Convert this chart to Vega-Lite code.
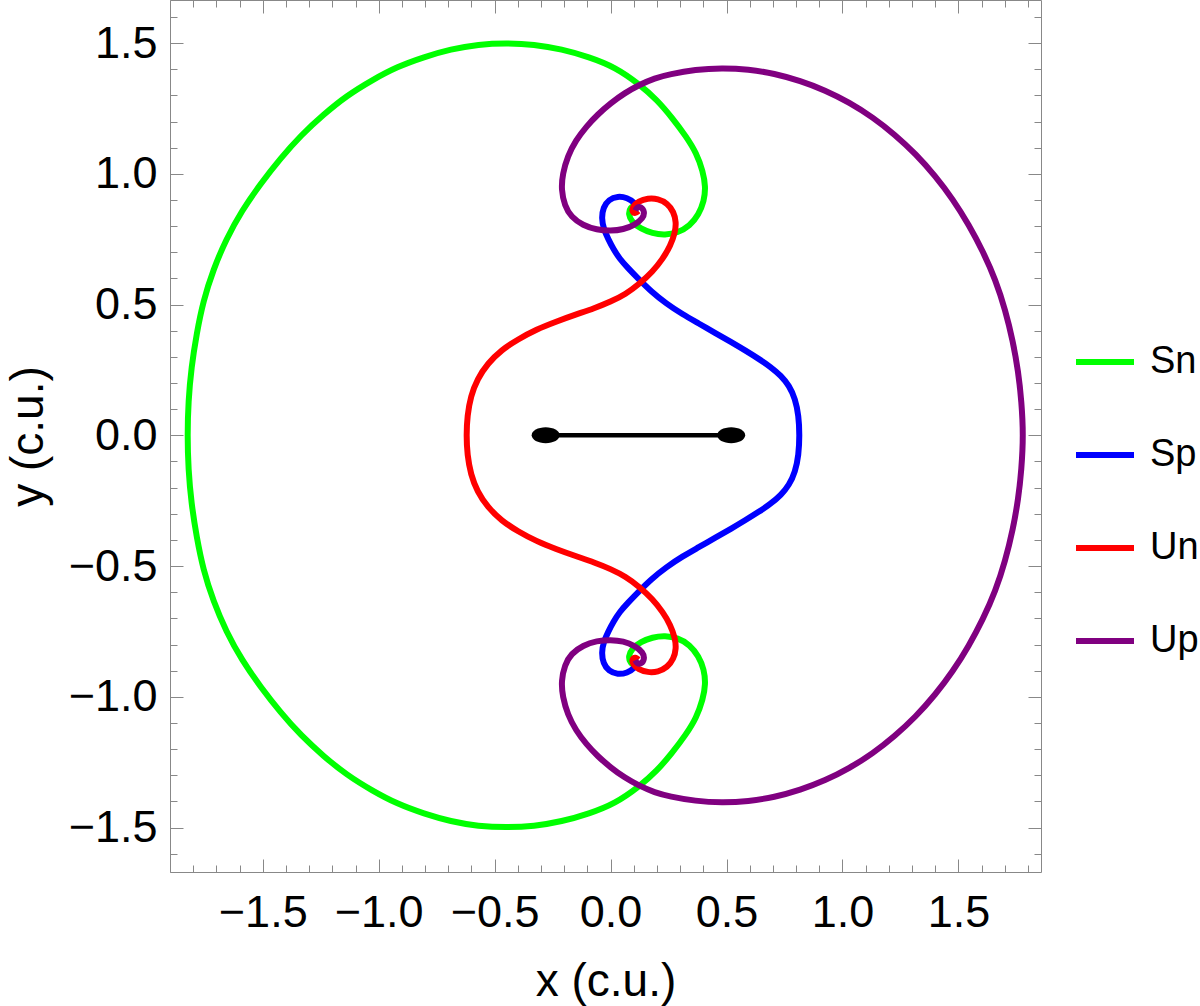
{
  "$schema": "https://vega.github.io/schema/vega-lite/v6.json",
  "width": 871,
  "height": 872,
  "autosize": "none",
  "padding": {"left": 170, "top": 0, "right": 159, "bottom": 134},
  "background": "white",
  "config": {
    "view": {"stroke": "#888888", "strokeWidth": 1},
    "font": "Liberation Sans"
  },
  "datasets": {
    "curves": [
      {"s":"Sn","x":0.120,"y":-0.868},{"s":"Sn","x":0.106,"y":-0.881},{"s":"Sn","x":0.085,"y":-0.872},{"s":"Sn","x":0.076,"y":-0.845},{"s":"Sn","x":0.092,"y":-0.815},{"s":"Sn","x":0.130,"y":-0.790},{"s":"Sn","x":0.180,"y":-0.772},{"s":"Sn","x":0.235,"y":-0.766},{"s":"Sn","x":0.290,"y":-0.775},{"s":"Sn","x":0.341,"y":-0.800},{"s":"Sn","x":0.380,"y":-0.845},{"s":"Sn","x":0.403,"y":-0.895},{"s":"Sn","x":0.410,"y":-0.951},{"s":"Sn","x":0.398,"y":-1.010},{"s":"Sn","x":0.370,"y":-1.080},{"s":"Sn","x":0.326,"y":-1.143},{"s":"Sn","x":0.265,"y":-1.215},{"s":"Sn","x":0.200,"y":-1.283},{"s":"Sn","x":0.125,"y":-1.342},{"s":"Sn","x":0.020,"y":-1.408},{"s":"Sn","x":-0.093,"y":-1.447},{"s":"Sn","x":-0.211,"y":-1.477},{"s":"Sn","x":-0.330,"y":-1.495},{"s":"Sn","x":-0.450,"y":-1.500},{"s":"Sn","x":-0.570,"y":-1.495},{"s":"Sn","x":-0.689,"y":-1.477},{"s":"Sn","x":-0.805,"y":-1.447},{"s":"Sn","x":-0.920,"y":-1.410},{"s":"Sn","x":-1.030,"y":-1.358},{"s":"Sn","x":-1.138,"y":-1.299},{"s":"Sn","x":-1.238,"y":-1.227},{"s":"Sn","x":-1.334,"y":-1.149},{"s":"Sn","x":-1.425,"y":-1.058},{"s":"Sn","x":-1.508,"y":-0.964},{"s":"Sn","x":-1.590,"y":-0.860},{"s":"Sn","x":-1.658,"y":-0.750},{"s":"Sn","x":-1.713,"y":-0.635},{"s":"Sn","x":-1.757,"y":-0.513},{"s":"Sn","x":-1.785,"y":-0.390},{"s":"Sn","x":-1.808,"y":-0.260},{"s":"Sn","x":-1.821,"y":-0.130},
      {"s":"Sn","x":-1.825,"y":0},{"s":"Sn","x":-1.821,"y":0.130},{"s":"Sn","x":-1.808,"y":0.260},{"s":"Sn","x":-1.785,"y":0.390},{"s":"Sn","x":-1.757,"y":0.513},{"s":"Sn","x":-1.713,"y":0.635},{"s":"Sn","x":-1.658,"y":0.750},{"s":"Sn","x":-1.590,"y":0.860},{"s":"Sn","x":-1.508,"y":0.964},{"s":"Sn","x":-1.425,"y":1.058},{"s":"Sn","x":-1.334,"y":1.149},{"s":"Sn","x":-1.238,"y":1.227},{"s":"Sn","x":-1.138,"y":1.299},{"s":"Sn","x":-1.030,"y":1.358},{"s":"Sn","x":-0.920,"y":1.410},{"s":"Sn","x":-0.805,"y":1.447},{"s":"Sn","x":-0.689,"y":1.477},{"s":"Sn","x":-0.570,"y":1.495},{"s":"Sn","x":-0.450,"y":1.500},{"s":"Sn","x":-0.330,"y":1.495},{"s":"Sn","x":-0.211,"y":1.477},{"s":"Sn","x":-0.093,"y":1.447},{"s":"Sn","x":0.020,"y":1.408},{"s":"Sn","x":0.125,"y":1.342},{"s":"Sn","x":0.200,"y":1.283},{"s":"Sn","x":0.265,"y":1.215},{"s":"Sn","x":0.326,"y":1.143},{"s":"Sn","x":0.370,"y":1.080},{"s":"Sn","x":0.398,"y":1.010},{"s":"Sn","x":0.410,"y":0.951},{"s":"Sn","x":0.403,"y":0.895},{"s":"Sn","x":0.380,"y":0.845},{"s":"Sn","x":0.341,"y":0.800},{"s":"Sn","x":0.290,"y":0.775},{"s":"Sn","x":0.235,"y":0.766},{"s":"Sn","x":0.180,"y":0.772},{"s":"Sn","x":0.130,"y":0.790},{"s":"Sn","x":0.092,"y":0.815},{"s":"Sn","x":0.076,"y":0.845},{"s":"Sn","x":0.085,"y":0.872},{"s":"Sn","x":0.106,"y":0.881},{"s":"Sn","x":0.120,"y":0.868},
      {"s":"Sp","x":0.118,"y":-0.868},{"s":"Sp","x":0.104,"y":-0.890},{"s":"Sp","x":0.072,"y":-0.909},{"s":"Sp","x":0.030,"y":-0.915},{"s":"Sp","x":-0.008,"y":-0.902},{"s":"Sp","x":-0.032,"y":-0.872},{"s":"Sp","x":-0.039,"y":-0.830},{"s":"Sp","x":-0.030,"y":-0.790},{"s":"Sp","x":-0.010,"y":-0.750},{"s":"Sp","x":0.012,"y":-0.713},{"s":"Sp","x":0.039,"y":-0.675},{"s":"Sp","x":0.075,"y":-0.640},{"s":"Sp","x":0.115,"y":-0.603},{"s":"Sp","x":0.175,"y":-0.550},{"s":"Sp","x":0.240,"y":-0.504},{"s":"Sp","x":0.310,"y":-0.463},{"s":"Sp","x":0.380,"y":-0.428},{"s":"Sp","x":0.450,"y":-0.392},{"s":"Sp","x":0.520,"y":-0.357},{"s":"Sp","x":0.580,"y":-0.325},{"s":"Sp","x":0.640,"y":-0.292},{"s":"Sp","x":0.690,"y":-0.262},{"s":"Sp","x":0.735,"y":-0.228},{"s":"Sp","x":0.770,"y":-0.190},{"s":"Sp","x":0.796,"y":-0.140},{"s":"Sp","x":0.811,"y":-0.075},
      {"s":"Sp","x":0.815,"y":0},{"s":"Sp","x":0.811,"y":0.075},{"s":"Sp","x":0.796,"y":0.140},{"s":"Sp","x":0.770,"y":0.190},{"s":"Sp","x":0.735,"y":0.228},{"s":"Sp","x":0.690,"y":0.262},{"s":"Sp","x":0.640,"y":0.292},{"s":"Sp","x":0.580,"y":0.325},{"s":"Sp","x":0.520,"y":0.357},{"s":"Sp","x":0.450,"y":0.392},{"s":"Sp","x":0.380,"y":0.428},{"s":"Sp","x":0.310,"y":0.463},{"s":"Sp","x":0.240,"y":0.504},{"s":"Sp","x":0.175,"y":0.550},{"s":"Sp","x":0.115,"y":0.603},{"s":"Sp","x":0.075,"y":0.640},{"s":"Sp","x":0.039,"y":0.675},{"s":"Sp","x":0.012,"y":0.713},{"s":"Sp","x":-0.010,"y":0.750},{"s":"Sp","x":-0.030,"y":0.790},{"s":"Sp","x":-0.039,"y":0.830},{"s":"Sp","x":-0.032,"y":0.872},{"s":"Sp","x":-0.008,"y":0.902},{"s":"Sp","x":0.030,"y":0.915},{"s":"Sp","x":0.072,"y":0.909},{"s":"Sp","x":0.104,"y":0.890},{"s":"Sp","x":0.118,"y":0.868},
      {"s":"Un","x":0.120,"y":-0.858},{"s":"Un","x":0.108,"y":-0.848},{"s":"Un","x":0.092,"y":-0.855},{"s":"Un","x":0.095,"y":-0.875},{"s":"Un","x":0.120,"y":-0.895},{"s":"Un","x":0.160,"y":-0.907},{"s":"Un","x":0.205,"y":-0.905},{"s":"Un","x":0.245,"y":-0.887},{"s":"Un","x":0.272,"y":-0.855},{"s":"Un","x":0.283,"y":-0.815},{"s":"Un","x":0.278,"y":-0.775},{"s":"Un","x":0.258,"y":-0.725},{"s":"Un","x":0.225,"y":-0.675},{"s":"Un","x":0.180,"y":-0.625},{"s":"Un","x":0.125,"y":-0.580},{"s":"Un","x":0.065,"y":-0.540},{"s":"Un","x":0,"y":-0.511},{"s":"Un","x":-0.070,"y":-0.486},{"s":"Un","x":-0.150,"y":-0.462},{"s":"Un","x":-0.235,"y":-0.435},{"s":"Un","x":-0.320,"y":-0.405},{"s":"Un","x":-0.400,"y":-0.367},{"s":"Un","x":-0.470,"y":-0.327},{"s":"Un","x":-0.530,"y":-0.275},{"s":"Un","x":-0.575,"y":-0.215},{"s":"Un","x":-0.603,"y":-0.150},{"s":"Un","x":-0.618,"y":-0.075},
      {"s":"Un","x":-0.622,"y":0},{"s":"Un","x":-0.618,"y":0.075},{"s":"Un","x":-0.603,"y":0.150},{"s":"Un","x":-0.575,"y":0.215},{"s":"Un","x":-0.530,"y":0.275},{"s":"Un","x":-0.470,"y":0.327},{"s":"Un","x":-0.400,"y":0.367},{"s":"Un","x":-0.320,"y":0.405},{"s":"Un","x":-0.235,"y":0.435},{"s":"Un","x":-0.150,"y":0.462},{"s":"Un","x":-0.070,"y":0.486},{"s":"Un","x":0,"y":0.511},{"s":"Un","x":0.065,"y":0.540},{"s":"Un","x":0.125,"y":0.580},{"s":"Un","x":0.180,"y":0.625},{"s":"Un","x":0.225,"y":0.675},{"s":"Un","x":0.258,"y":0.725},{"s":"Un","x":0.278,"y":0.775},{"s":"Un","x":0.283,"y":0.815},{"s":"Un","x":0.272,"y":0.855},{"s":"Un","x":0.245,"y":0.887},{"s":"Un","x":0.205,"y":0.905},{"s":"Un","x":0.160,"y":0.907},{"s":"Un","x":0.120,"y":0.895},{"s":"Un","x":0.095,"y":0.875},{"s":"Un","x":0.092,"y":0.855},{"s":"Un","x":0.108,"y":0.848},{"s":"Un","x":0.120,"y":0.858},
      {"s":"Up","x":0.107,"y":-0.860},{"s":"Up","x":0.113,"y":-0.872},{"s":"Up","x":0.132,"y":-0.875},{"s":"Up","x":0.147,"y":-0.855},{"s":"Up","x":0.140,"y":-0.830},{"s":"Up","x":0.105,"y":-0.805},{"s":"Up","x":0.055,"y":-0.787},{"s":"Up","x":0,"y":-0.782},{"s":"Up","x":-0.060,"y":-0.786},{"s":"Up","x":-0.119,"y":-0.803},{"s":"Up","x":-0.170,"y":-0.835},{"s":"Up","x":-0.198,"y":-0.878},{"s":"Up","x":-0.213,"y":-0.940},{"s":"Up","x":-0.207,"y":-1.000},{"s":"Up","x":-0.185,"y":-1.068},{"s":"Up","x":-0.150,"y":-1.128},{"s":"Up","x":-0.105,"y":-1.181},{"s":"Up","x":-0.055,"y":-1.228},{"s":"Up","x":0,"y":-1.270},{"s":"Up","x":0.060,"y":-1.309},{"s":"Up","x":0.125,"y":-1.341},{"s":"Up","x":0.190,"y":-1.366},{"s":"Up","x":0.254,"y":-1.381},{"s":"Up","x":0.366,"y":-1.399},{"s":"Up","x":0.480,"y":-1.405},{"s":"Up","x":0.594,"y":-1.400},{"s":"Up","x":0.706,"y":-1.384},{"s":"Up","x":0.818,"y":-1.356},{"s":"Up","x":0.925,"y":-1.320},{"s":"Up","x":1.030,"y":-1.273},{"s":"Up","x":1.130,"y":-1.217},{"s":"Up","x":1.226,"y":-1.150},{"s":"Up","x":1.316,"y":-1.076},{"s":"Up","x":1.400,"y":-0.992},{"s":"Up","x":1.476,"y":-0.903},{"s":"Up","x":1.545,"y":-0.805},{"s":"Up","x":1.606,"y":-0.703},{"s":"Up","x":1.660,"y":-0.595},{"s":"Up","x":1.702,"y":-0.480},{"s":"Up","x":1.735,"y":-0.360},{"s":"Up","x":1.758,"y":-0.244},{"s":"Up","x":1.772,"y":-0.130},
      {"s":"Up","x":1.780,"y":0},{"s":"Up","x":1.772,"y":0.130},{"s":"Up","x":1.758,"y":0.244},{"s":"Up","x":1.735,"y":0.360},{"s":"Up","x":1.702,"y":0.480},{"s":"Up","x":1.660,"y":0.595},{"s":"Up","x":1.606,"y":0.703},{"s":"Up","x":1.545,"y":0.805},{"s":"Up","x":1.476,"y":0.903},{"s":"Up","x":1.400,"y":0.992},{"s":"Up","x":1.316,"y":1.076},{"s":"Up","x":1.226,"y":1.150},{"s":"Up","x":1.130,"y":1.217},{"s":"Up","x":1.030,"y":1.273},{"s":"Up","x":0.925,"y":1.320},{"s":"Up","x":0.818,"y":1.356},{"s":"Up","x":0.706,"y":1.384},{"s":"Up","x":0.594,"y":1.400},{"s":"Up","x":0.480,"y":1.405},{"s":"Up","x":0.366,"y":1.399},{"s":"Up","x":0.254,"y":1.381},{"s":"Up","x":0.190,"y":1.366},{"s":"Up","x":0.125,"y":1.341},{"s":"Up","x":0.060,"y":1.309},{"s":"Up","x":0,"y":1.270},{"s":"Up","x":-0.055,"y":1.228},{"s":"Up","x":-0.105,"y":1.181},{"s":"Up","x":-0.150,"y":1.128},{"s":"Up","x":-0.185,"y":1.068},{"s":"Up","x":-0.207,"y":1.000},{"s":"Up","x":-0.213,"y":0.940},{"s":"Up","x":-0.198,"y":0.878},{"s":"Up","x":-0.170,"y":0.835},{"s":"Up","x":-0.119,"y":0.803},{"s":"Up","x":-0.060,"y":0.786},{"s":"Up","x":0,"y":0.782},{"s":"Up","x":0.055,"y":0.787},{"s":"Up","x":0.105,"y":0.805},{"s":"Up","x":0.140,"y":0.830},{"s":"Up","x":0.147,"y":0.855},{"s":"Up","x":0.132,"y":0.875},{"s":"Up","x":0.113,"y":0.872},{"s":"Up","x":0.107,"y":0.860}
    ],
    "dots": [{"x": -0.28, "y": 0}, {"x": 0.52, "y": 0}]
  },
  "resolve": {"axis": {"x": "independent", "y": "independent"}},
  "layer": [
    {
      "data": {"name": "curves"},
      "mark": {"type": "line", "strokeWidth": 6, "interpolate": "basis"},
      "encoding": {
        "x": {"field": "x", "type": "quantitative",
          "scale": {"domain": [-1.9, 1.856], "nice": false, "zero": false},
          "axis": {"orient": "bottom", "values": [-1.9,-1.8,-1.7,-1.6,-1.5,-1.4,-1.3,-1.2,-1.1,-1.0,-0.9,-0.8,-0.7,-0.6,-0.5,-0.4,-0.3,-0.2,-0.1,0,0.1,0.2,0.3,0.4,0.5,0.6,0.7,0.8,0.9,1.0,1.1,1.2,1.3,1.4,1.5,1.6,1.7,1.8],
            "domain": false, "grid": false, "tickColor": "#888888", "tickWidth": 1,
            "tickSize": {"condition": {"test": "abs(datum.value*2-round(datum.value*2))<0.01", "value": -13}, "value": -7},
            "labelExpr": "abs(datum.value*2-round(datum.value*2))<0.01 ? format(datum.value, '.1f') : ''",
            "labelFont": "Liberation Sans", "labelFontSize": 45, "labelColor": "black", "labelPadding": 31, "labelOverlap": false, "labelFlush": false,
            "title": "x (c.u.)", "titleFont": "Liberation Sans", "titleFontSize": 46, "titleFontWeight": "normal", "titleColor": "black", "titlePadding": 18}},
        "y": {"field": "y", "type": "quantitative",
          "scale": {"domain": [-1.67, 1.665], "nice": false, "zero": false},
          "axis": {"orient": "left", "values": [-1.6,-1.5,-1.4,-1.3,-1.2,-1.1,-1.0,-0.9,-0.8,-0.7,-0.6,-0.5,-0.4,-0.3,-0.2,-0.1,0,0.1,0.2,0.3,0.4,0.5,0.6,0.7,0.8,0.9,1.0,1.1,1.2,1.3,1.4,1.5,1.6],
            "domain": false, "grid": false, "tickColor": "#888888", "tickWidth": 1,
            "tickSize": {"condition": {"test": "abs(datum.value*2-round(datum.value*2))<0.01", "value": -13}, "value": -7},
            "labelExpr": "abs(datum.value*2-round(datum.value*2))<0.01 ? format(datum.value, '.1f') : ''",
            "labelFont": "Liberation Sans", "labelFontSize": 45, "labelColor": "black", "labelPadding": 26, "labelOverlap": false, "labelFlush": false,
            "title": "y (c.u.)", "titleFont": "Liberation Sans", "titleFontSize": 46, "titleFontWeight": "normal", "titleColor": "black", "titlePadding": 16}},
        "color": {"field": "s", "type": "nominal",
          "scale": {"domain": ["Sn", "Sp", "Un", "Up"], "range": ["#00ff00", "#0000ff", "#ff0000", "#800080"]},
          "legend": {"title": null, "orient": "none", "legendX": 903, "legendY": 330, "symbolType": "stroke", "symbolSize": 3364, "symbolStrokeWidth": 6, "labelFont": "Liberation Sans", "labelFontSize": 38, "labelColor": "black", "labelOffset": 13, "rowPadding": 42, "padding": 0}},
        "order": {"value": null}
      }
    },
    {
      "mark": {"type": "rule", "color": "black", "strokeWidth": 1.3},
      "encoding": {"x": {"datum": 0, "type": "quantitative", "axis": null}}
    },
    {
      "mark": {"type": "rule", "color": "black", "strokeWidth": 1.3},
      "encoding": {"y": {"datum": 0, "type": "quantitative", "axis": null}}
    },
    {
      "data": {"name": "dots"},
      "mark": {"type": "line", "color": "black", "strokeWidth": 4.5},
      "encoding": {
        "x": {"field": "x", "type": "quantitative", "axis": null},
        "y": {"field": "y", "type": "quantitative", "axis": null}
      }
    },
    {
      "data": {"name": "dots"},
      "mark": {"type": "point", "filled": true, "color": "black", "opacity": 1, "size": 784, "shape": "M-1,0A1,0.57,0,1,1,1,0A1,0.57,0,1,1,-1,0Z"},
      "encoding": {
        "x": {"field": "x", "type": "quantitative",
          "axis": {"orient": "top", "values": [-1.9,-1.8,-1.7,-1.6,-1.5,-1.4,-1.3,-1.2,-1.1,-1.0,-0.9,-0.8,-0.7,-0.6,-0.5,-0.4,-0.3,-0.2,-0.1,0,0.1,0.2,0.3,0.4,0.5,0.6,0.7,0.8,0.9,1.0,1.1,1.2,1.3,1.4,1.5,1.6,1.7,1.8],
            "domain": false, "grid": false, "labels": false, "title": null, "tickColor": "#888888", "tickWidth": 1,
            "tickSize": {"condition": {"test": "abs(datum.value*2-round(datum.value*2))<0.01", "value": -13}, "value": -7}}},
        "y": {"field": "y", "type": "quantitative",
          "axis": {"orient": "right", "values": [-1.6,-1.5,-1.4,-1.3,-1.2,-1.1,-1.0,-0.9,-0.8,-0.7,-0.6,-0.5,-0.4,-0.3,-0.2,-0.1,0,0.1,0.2,0.3,0.4,0.5,0.6,0.7,0.8,0.9,1.0,1.1,1.2,1.3,1.4,1.5,1.6],
            "domain": false, "grid": false, "labels": false, "title": null, "tickColor": "#888888", "tickWidth": 1,
            "tickSize": {"condition": {"test": "abs(datum.value*2-round(datum.value*2))<0.01", "value": -13}, "value": -7}}}
      }
    }
  ]
}
